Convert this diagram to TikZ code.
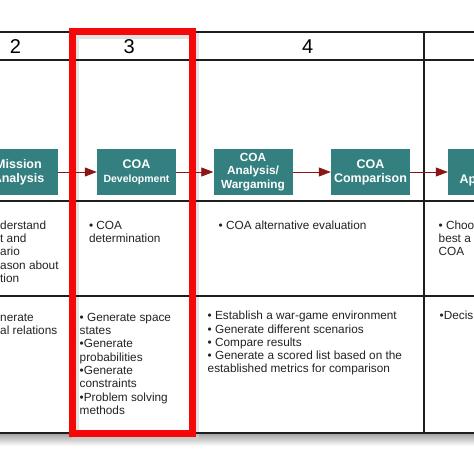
\documentclass[tikz,border=0pt]{standalone}
\usepackage{fontspec}
\setmainfont{Liberation Sans}
\usetikzlibrary{arrows.meta}
\definecolor{tealbox}{RGB}{52,127,127}
\definecolor{arrowred}{RGB}{140,22,22}
\definecolor{gridc}{RGB}{30,30,30}
\definecolor{txt}{RGB}{35,35,35}
\definecolor{hred}{RGB}{245,8,8}
\begin{document}
\begin{tikzpicture}[x=1pt,y=-1pt,
  grid/.style={draw=gridc,line width=1.4pt},
  stage/.style={fill=tealbox,text=white,font=\fontsize{12.5}{14}\selectfont\bfseries,
    minimum width=79pt,minimum height=46pt,inner sep=0pt,align=center},
  flow/.style={draw=arrowred,line width=0.8pt,-{Triangle[length=12pt,width=9pt]}},
  cell/.style={anchor=north west,inner sep=0pt,align=left,text=txt,
    font=\fontsize{11.8}{13.4}\selectfont},
  num/.style={font=\fontsize{20}{20}\selectfont,inner sep=0pt,text=black}]
\useasboundingbox (0,0) rectangle (474,474);
\clip (0,0) rectangle (474,474);
\fill[white] (0,0) rectangle (474,474);
% shadows
\shade[top color=black!35,bottom color=white] (0,434) rectangle (474,446);
\draw[black!18,line width=7pt,opacity=0.6] (75,35) rectangle (195,437);
% grid
\draw[grid] (0,32) -- (474,32);
\draw[grid] (0,60) -- (474,60);
\draw[grid] (0,201) -- (474,201);
\draw[grid] (0,296) -- (474,296);
\draw[grid] (0,433) -- (474,433);
\draw[grid] (72.5,32) -- (72.5,433);
\draw[grid] (192,32) -- (192,433);
\draw[grid,line width=1.3pt] (424,32) -- (424,433);
% header numbers
\node[num] (h2) at (15.5,47) {2};
\node[num] (h3) at (129.3,47) {3};
\node[num] (h4) at (307.7,47) {4};
% stage boxes
\node[stage] (mission) at (18.5,172) {Mission\\Analysis};
\node[stage] (dev) at (136.5,172) {COA\\{\fontsize{10.5}{12}\selectfont Development}};
\node[stage,font=\fontsize{11.8}{13.8}\selectfont\bfseries] (wargame) at (253,172) {COA\\Analysis/\\Wargaming};
\node[stage] (compare) at (370.5,172) {COA\\Comparison};
\node[stage] (apply) at (487.5,172) {};
\node[anchor=base west,inner sep=0pt,text=white,font=\fontsize{12.5}{14}\selectfont\bfseries] (applytxt) at (459.5,183.5) {Ap};
% connectors
\draw[flow] (mission) -- (dev);
\draw[flow] (dev) -- (wargame);
\draw[flow] (wargame) -- (compare);
\draw[flow] (compare) -- (apply);
% row 2 cells
\node[cell] (c2r2) at (0,219.5) {\strut derstand\\t and\\ario\\ason about\\tion};
\node[cell] (c3r2) at (88.8,219.5) {\strut • COA\\determination};
\node[cell] (c4r2) at (218.5,219.5) {\strut • COA alternative evaluation};
\node[cell] (c5r2) at (438.5,219.5) {\strut • Choo\\best a\\COA};
% row 3 cells
\node[cell,font=\fontsize{11.8}{13.3}\selectfont] (c2r3) at (0,311.8) {\strut nerate\\al relations};
\node[cell,font=\fontsize{11.8}{13.3}\selectfont] (c3r3) at (79.5,311.8) {\strut • Generate space\\states\\•Generate\\probabilities\\•Generate\\constraints\\•Problem solving\\methods};
\node[cell,font=\fontsize{11.8}{13.2}\selectfont] (c4r3) at (207.5,310.5) {\strut • Establish a war-game environment\\• Generate different scenarios\\• Compare results\\• Generate a scored list based on the\\established metrics for comparison};
\node[cell,font=\fontsize{11.8}{13.2}\selectfont] (c5r3) at (439.5,310.5) {\strut •Decis};
% highlight
\draw[hred,line width=7pt] (72.5,31.5) rectangle (192,433.5);
\end{tikzpicture}
\end{document}
